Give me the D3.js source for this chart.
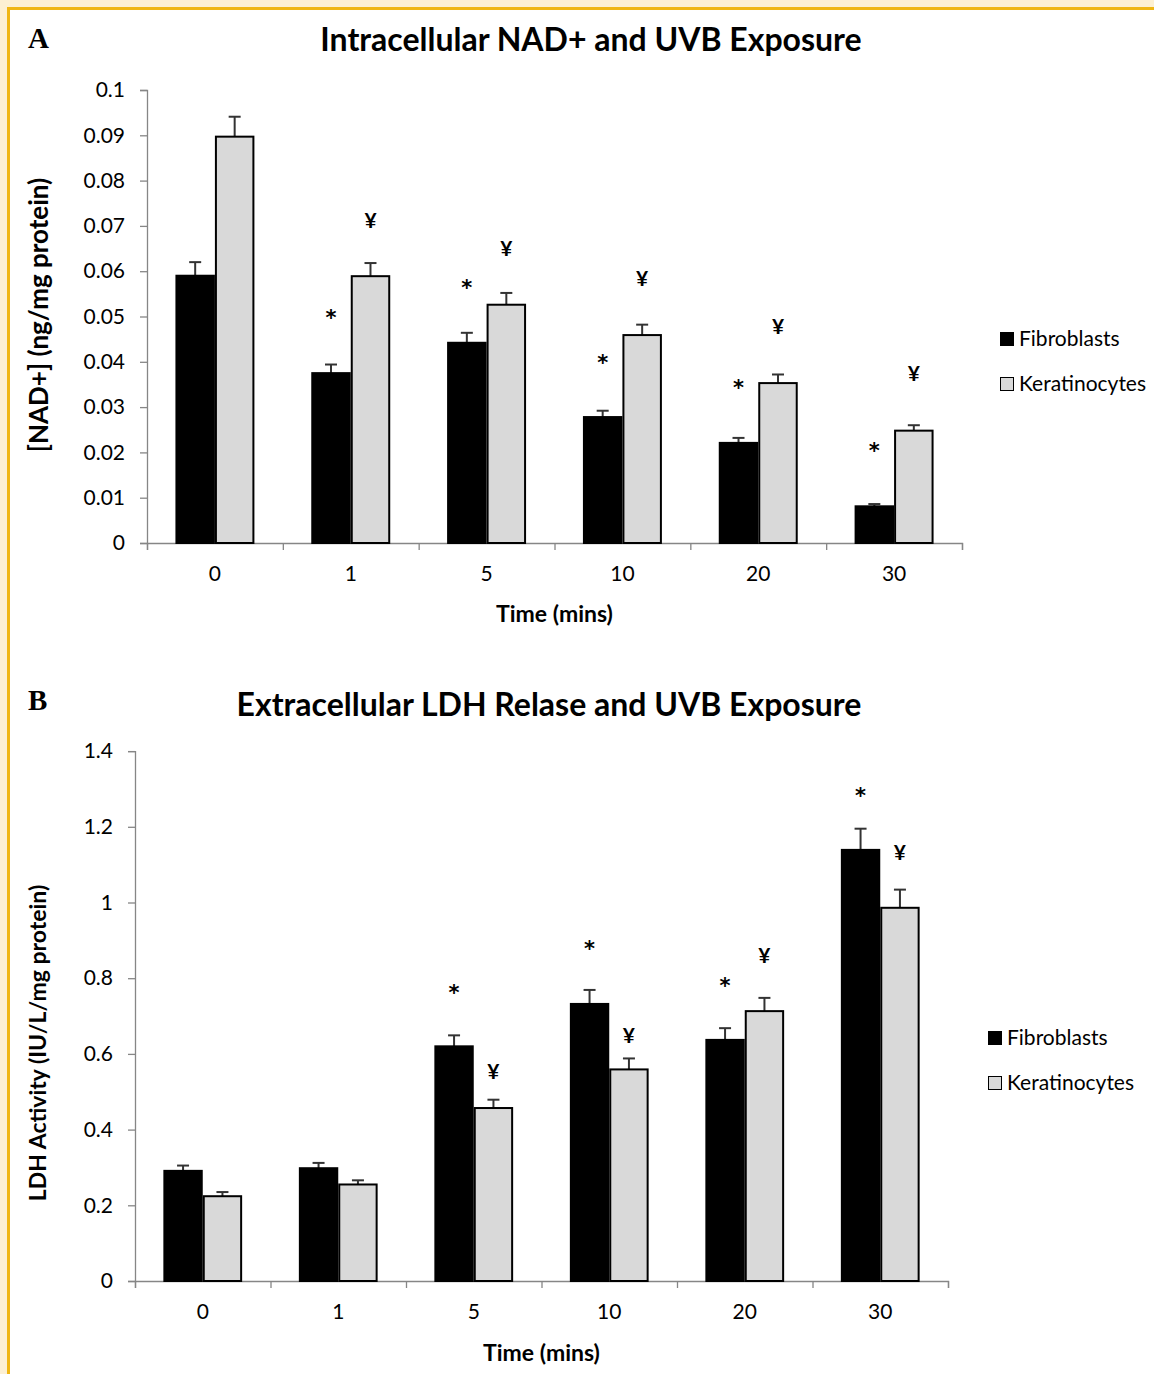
<!DOCTYPE html>
<html>
<head>
<meta charset="utf-8">
<script src="https://cdn.jsdelivr.net/npm/d3@7"></script>
<style>
  html, body { margin: 0; padding: 0; background: #fdf0d2; }
  svg { display: block; }
</style>
</head>
<body>
<svg id="fig" width="1154" height="1374"></svg>
<script>
// ---- data ----
const times = ["0", "1", "5", "10", "20", "30"];
const seriesNames = ["Fibroblasts", "Keratinocytes"];

// Panel A: intracellular NAD+ (ng/mg protein), mean and SEM
const nadFibro    = [0.0590, 0.0375, 0.0442, 0.0278, 0.0221, 0.0081];
const nadFibroErr = [0.0030, 0.0019, 0.0022, 0.0014, 0.0011, 0.0005];
const nadKera     = [0.0897, 0.0589, 0.0526, 0.0459, 0.0353, 0.0248];
const nadKeraErr  = [0.0044, 0.0029, 0.0026, 0.0023, 0.0019, 0.0012];
const nadFibroSig = [null, 0.0510, 0.0577, 0.0411, 0.0356, 0.0216];
const nadKeraSig  = [null, 0.0713, 0.0651, 0.0583, 0.0479, 0.0375];
const nadTickValues = [0, 0.01, 0.02, 0.03, 0.04, 0.05, 0.06, 0.07, 0.08, 0.09, 0.1];
const nadTickLabels = ["0", "0.01", "0.02", "0.03", "0.04", "0.05", "0.06", "0.07", "0.08", "0.09", "0.1"];

// Panel B: extracellular LDH activity (IU/L/mg protein), mean and SEM
const ldhFibro    = [0.291, 0.298, 0.620, 0.732, 0.637, 1.139];
const ldhFibroErr = [0.014, 0.014, 0.029, 0.037, 0.031, 0.056];
const ldhKera     = [0.224, 0.255, 0.457, 0.559, 0.713, 0.986];
const ldhKeraErr  = [0.011, 0.011, 0.022, 0.029, 0.035, 0.048];
const ldhFibroSig = [null, null, 0.7775, 0.892, 0.795, 1.297];
const ldhKeraSig  = [null, null, 0.553, 0.650, 0.861, 1.133];
const ldhTickValues = [0, 0.2, 0.4, 0.6, 0.8, 1.0, 1.2, 1.4];
const ldhTickLabels = ["0", "0.2", "0.4", "0.6", "0.8", "1", "1.2", "1.4"];

// ---- drawing ----
const svg = d3.select("#fig");
const FONT = "Lato, 'Open Sans', sans-serif";
const AXIS = "#868686";
const KFILL = "#d9d9d9";

// page frame: white sheet with a golden rule along top and left
svg.append("rect").attr("x", 10).attr("y", 10).attr("width", 1144).attr("height", 1364).attr("fill", "#ffffff");
svg.append("rect").attr("x", 7).attr("y", 7).attr("width", 1147).attr("height", 3).attr("fill", "#f0b613");
svg.append("rect").attr("x", 7).attr("y", 7).attr("width", 3).attr("height", 1367).attr("fill", "#f0b613");

function panel(cfg) {
  const g = svg.append("g");
  const x = d3.scaleBand().domain(times).range([cfg.x0, cfg.x1]).paddingInner(0).paddingOuter(0);
  const xs = d3.scaleBand().domain(seriesNames).range([0, x.bandwidth()]).paddingInner(0).paddingOuter(0.72);
  const y = d3.scaleLinear().domain([0, cfg.yMax]).range([cfg.yBase, cfg.yTop]);

  // panel letter and title
  g.append("text").attr("x", 28).attr("y", cfg.letterY)
    .attr("font-family", "'Liberation Serif', 'Times New Roman', serif")
    .attr("font-weight", "bold").attr("font-size", 29).text(cfg.letter);
  g.append("text").attr("x", cfg.titleX).attr("y", cfg.titleY).attr("text-anchor", "middle")
    .attr("font-family", FONT).attr("font-weight", "bold").attr("font-size", 32)
    .attr("fill", "#000").text(cfg.title);

  // y axis
  const yAxis = g.append("g").attr("transform", `translate(${cfg.x0},0)`)
    .call(d3.axisLeft(y).tickValues(cfg.tickValues).tickSize(7).tickPadding(15)
      .tickFormat((d, i) => cfg.tickLabels[i]));
  yAxis.selectAll("path, line").attr("stroke", AXIS).attr("stroke-width", 1.3);
  yAxis.selectAll("text").attr("font-family", FONT).attr("font-size", 21).attr("fill", "#000");

  // x axis: tick marks at category boundaries, labels at category centres
  const xEdge = d3.scaleLinear().domain([0, times.length]).range([cfg.x0, cfg.x1]);
  const xAxis = g.append("g").attr("transform", `translate(0,${cfg.yBase})`)
    .call(d3.axisBottom(xEdge).ticks(times.length).tickSize(7).tickFormat(""));
  xAxis.selectAll("path, line").attr("stroke", AXIS).attr("stroke-width", 1.3);
  const xLab = g.append("g").attr("transform", `translate(0,${cfg.yBase})`)
    .call(d3.axisBottom(x).tickSize(0).tickPadding(23));
  xLab.select(".domain").remove();
  xLab.selectAll("text").attr("font-family", FONT).attr("font-size", 21).attr("fill", "#000");

  // axis titles
  g.append("text").attr("transform", `translate(${cfg.yTitleX},${cfg.yTitleY}) rotate(-90)`)
    .attr("text-anchor", "middle").attr("font-family", FONT).attr("font-weight", "bold")
    .attr("font-size", cfg.yTitleSize).text(cfg.yTitle);
  g.append("text").attr("x", (cfg.x0 + cfg.x1) / 2).attr("y", cfg.xTitleY).attr("text-anchor", "middle")
    .attr("font-family", FONT).attr("font-weight", "bold").attr("font-size", 23).text("Time (mins)");

  const series = [
    { name: seriesNames[0], vals: cfg.fib, errs: cfg.fibErr, sig: cfg.fibSig, mark: "*", fill: "#000" },
    { name: seriesNames[1], vals: cfg.ker, errs: cfg.kerErr, sig: cfg.kerSig, mark: "\u00A5", fill: KFILL }
  ];

  series.forEach(s => {
    const rows = times.map((t, i) => ({ t, v: s.vals[i], e: s.errs[i], sig: s.sig[i] }));
    const cx = d => x(d.t) + xs(s.name) + xs.bandwidth() / 2;

    // error bars (upper arm only)
    const eb = g.append("g").attr("stroke", "#333").attr("stroke-width", 2);
    eb.selectAll("line.v").data(rows).join("line")
      .attr("x1", cx).attr("x2", cx).attr("y1", d => y(d.v)).attr("y2", d => y(d.v + d.e));
    eb.selectAll("line.c").data(rows).join("line").attr("class", "c")
      .attr("x1", d => cx(d) - 6).attr("x2", d => cx(d) + 6)
      .attr("y1", d => y(d.v + d.e)).attr("y2", d => y(d.v + d.e));

    // bars
    g.append("g").selectAll("rect").data(rows).join("rect")
      .attr("x", d => x(d.t) + xs(s.name) + 1)
      .attr("width", xs.bandwidth() - 2)
      .attr("y", d => y(d.v))
      .attr("height", d => y(0) - y(d.v))
      .attr("fill", s.fill).attr("stroke", "#000").attr("stroke-width", 2);

    // significance markers
    const star = s.mark === "*";
    g.append("g").selectAll("text").data(rows.filter(d => d.sig != null)).join("text")
      .attr("x", cx).attr("y", d => y(d.sig))
      .attr("dy", star ? "0.62em" : "0.36em")
      .attr("text-anchor", "middle")
      .attr("font-family", star ? "'DejaVu Sans', sans-serif" : FONT)
      .attr("font-weight", "bold")
      .attr("font-size", 21).text(s.mark);
  });

  // legend
  const lg = g.append("g").attr("transform", `translate(${cfg.legX},${cfg.legY})`);
  series.forEach((s, i) => {
    const row = lg.append("g").attr("transform", `translate(0,${i * 45})`);
    row.append("rect").attr("x", 0.5).attr("y", -6.5).attr("width", 13).attr("height", 13)
      .attr("fill", s.fill).attr("stroke", "#000").attr("stroke-width", 1);
    row.append("text").attr("x", 19).attr("y", 0).attr("dy", "0.35em")
      .attr("font-family", FONT).attr("font-size", 21).text(s.name);
  });
}

panel({
  letter: "A", letterY: 48, title: "Intracellular NAD+ and UVB Exposure", titleX: 591, titleY: 51,
  x0: 147, x1: 962, yBase: 543, yTop: 90, yMax: 0.1,
  tickValues: nadTickValues, tickLabels: nadTickLabels,
  yTitle: "[NAD+] (ng/mg protein)", yTitleX: 48, yTitleY: 315, yTitleSize: 26, xTitleY: 622,
  fib: nadFibro, fibErr: nadFibroErr, fibSig: nadFibroSig,
  ker: nadKera, kerErr: nadKeraErr, kerSig: nadKeraSig,
  legX: 1000, legY: 339
});

panel({
  letter: "B", letterY: 710, title: "Extracellular LDH Relase and UVB Exposure", titleX: 549, titleY: 716,
  x0: 135, x1: 948, yBase: 1281, yTop: 751.1, yMax: 1.4,
  tickValues: ldhTickValues, tickLabels: ldhTickLabels,
  yTitle: "LDH Activity (IU/L/mg protein)", yTitleX: 46, yTitleY: 1043, yTitleSize: 23, xTitleY: 1361,
  fib: ldhFibro, fibErr: ldhFibroErr, fibSig: ldhFibroSig,
  ker: ldhKera, kerErr: ldhKeraErr, kerSig: ldhKeraSig,
  legX: 988, legY: 1038
});
</script>
</body>
</html>
